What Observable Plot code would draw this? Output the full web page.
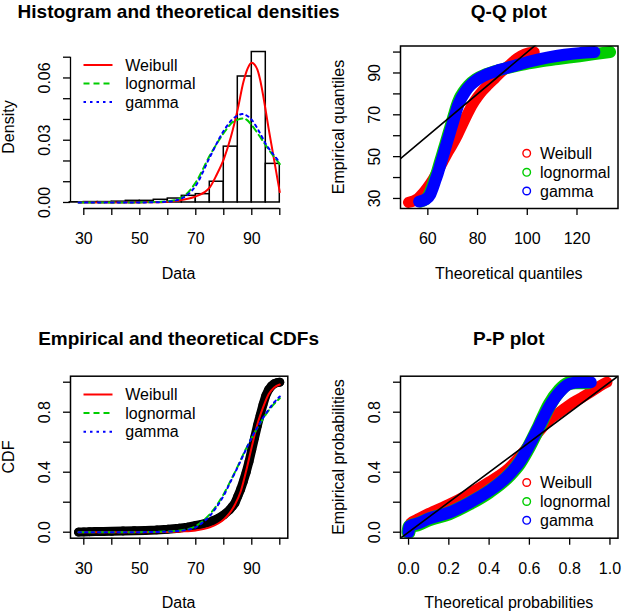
<!DOCTYPE html>
<html>
<head>
<meta charset="utf-8">
<script src="https://cdn.jsdelivr.net/npm/d3@7"></script>
<script src="https://cdn.jsdelivr.net/npm/@observablehq/plot@0.6"></script>
<style>
html,body{margin:0;padding:0;background:#fff;}
#root{position:relative;width:623px;height:614px;overflow:hidden;font-family:"Liberation Sans",Arial,Helvetica,sans-serif;color:#000;}
</style>
</head>
<body>
<div id="root"></div>
<script>
// ---------------- data ----------------
const fitNames = ["Weibull", "lognormal", "gamma"];
const fitColors = ["#ff0000", "#00cd00", "#0000ff"];

// Histogram (density scale)
const histBreaks = [25, 30, 35, 40, 45, 50, 55, 60, 65, 70, 75, 80, 85, 90, 95, 100];
const histDensity = [0.0001, 0.0002, 0.0002, 0.0004, 0.0008, 0.0008, 0.0013, 0.0019, 0.0032, 0.0040, 0.0100, 0.0269, 0.0607, 0.0725, 0.0186];

// Theoretical densities
const densWeibullX = [28.1, 40, 50, 55, 60, 65, 70, 75, 77.5, 80, 82.5, 85, 87, 88.5, 90, 91, 92, 93, 94, 95, 96, 97, 98, 99, 100];
const densWeibullY = [0, 0, 0.00005, 0.0001, 0.0004, 0.0012, 0.0029, 0.0073, 0.0135, 0.0209, 0.0314, 0.0451, 0.0580, 0.0645, 0.0673, 0.0664, 0.0640, 0.0590, 0.0520, 0.0440, 0.0357, 0.0280, 0.0203, 0.0126, 0.0050];
const densLnormX = [28.1, 40, 50, 55, 60, 65, 70, 75, 80, 83, 85, 86, 87, 88, 90, 92.5, 95, 97.5, 100];
const densLnormY = [0, 0, 0.00005, 0.0002, 0.0006, 0.0024, 0.0097, 0.0226, 0.0335, 0.0385, 0.0399, 0.0404, 0.0405, 0.0400, 0.0372, 0.0325, 0.0275, 0.0228, 0.0185];
const densGammaX = [28.1, 40, 50, 55, 60, 65, 70, 75, 80, 83, 85, 86.5, 88, 90, 92.5, 95, 97.5, 100];
const densGammaY = [0, 0, 0.00003, 0.0001, 0.0004, 0.0020, 0.0081, 0.0218, 0.0346, 0.0400, 0.0419, 0.0426, 0.0420, 0.0398, 0.0345, 0.0282, 0.0235, 0.0193];

// Empirical CDF
const ecdfX = [28.1, 30, 32, 34, 37, 40, 44, 48, 52, 56, 60, 64, 67, 70, 72, 74, 76, 78, 80, 82, 83, 84, 85, 86, 87, 88, 89, 90, 91, 92, 93, 94, 95, 96, 97, 98, 99, 100];
const ecdfY = [0.001, 0.002, 0.003, 0.004, 0.005, 0.006, 0.008, 0.010, 0.012, 0.015, 0.020, 0.027, 0.034, 0.045, 0.052, 0.062, 0.075, 0.092, 0.115, 0.148, 0.170, 0.195, 0.240, 0.285, 0.340, 0.400, 0.470, 0.550, 0.630, 0.710, 0.780, 0.850, 0.910, 0.950, 0.975, 0.990, 0.997, 1.000];

// Theoretical CDFs
const cdfWeibullX = [28.1, 50, 60, 65, 70, 75, 78, 80, 82, 84, 86, 88, 90, 92, 94, 96, 98, 100];
const cdfWeibullY = [0, 0.0003, 0.002, 0.005, 0.012, 0.032, 0.058, 0.085, 0.125, 0.185, 0.270, 0.410, 0.570, 0.720, 0.830, 0.920, 0.965, 0.985];
const cdfLnormX = [28.1, 50, 60, 65, 70, 72.5, 75, 77.5, 80, 82.5, 85, 87.5, 90, 92.5, 95, 97.5, 100];
const cdfLnormY = [0, 0.0005, 0.005, 0.013, 0.040, 0.075, 0.120, 0.180, 0.255, 0.345, 0.440, 0.540, 0.630, 0.710, 0.785, 0.845, 0.893];
const cdfGammaX = [28.1, 50, 60, 65, 70, 72.5, 75, 77.5, 80, 82.5, 85, 87.5, 90, 92.5, 95, 97.5, 100];
const cdfGammaY = [0, 0.0003, 0.004, 0.010, 0.033, 0.066, 0.108, 0.170, 0.245, 0.340, 0.435, 0.535, 0.632, 0.715, 0.790, 0.855, 0.905];

// Q-Q plot (theoretical quantile, empirical quantile)
const qqWeibullX = [52.2, 56, 58, 60, 62, 64, 66, 68, 70, 72, 74, 76, 78, 80, 82, 84, 87, 90, 93, 96, 99, 102.8];
const qqWeibullY = [28.1, 30, 32.5, 35.5, 39, 43, 47.5, 52, 56, 60.5, 65.5, 70.5, 75, 78.5, 81.5, 84, 87.5, 91, 94, 97, 99, 100];
const qqLnormX = [57, 59, 60.5, 61.5, 62.5, 63.5, 64.5, 65.5, 66.5, 67.5, 68.5, 69.5, 70.5, 71.5, 72.8, 74.3, 76.3, 79.3, 83.5, 90, 97, 105, 113, 121, 127, 133.3];
const qqLnormY = [28.5, 29.5, 32, 35, 38.5, 42, 46, 50, 54, 58, 62, 66, 70, 74, 78, 81, 84, 87, 89.5, 91.8, 93.8, 95.5, 96.8, 98, 99, 100];
const qqGammaX = [56.5, 59, 61, 62, 63, 64, 65, 66, 67, 68, 69, 70, 71, 72, 73.5, 75, 77, 80, 84, 89, 95, 101, 108, 115, 121, 127];
const qqGammaY = [28.5, 29.5, 32, 35, 38.5, 42, 46, 50, 54, 58, 62, 66, 70, 74, 78, 81, 84, 87, 89.5, 91.5, 93.5, 95.5, 97.3, 98.7, 99.5, 100];

// P-P plot (theoretical probability, empirical probability)
const ppWeibullX = [0, 0.01, 0.05, 0.1, 0.2, 0.3, 0.4, 0.5, 0.55, 0.6, 0.65, 0.7, 0.75, 0.8, 0.85, 0.9, 0.95, 0.985];
const ppWeibullY = [0.02, 0.06, 0.09, 0.125, 0.185, 0.255, 0.335, 0.43, 0.50, 0.585, 0.675, 0.75, 0.80, 0.85, 0.89, 0.93, 0.975, 1.0];
const ppLnormX = [0, 0.005, 0.05, 0.1, 0.2, 0.3, 0.4, 0.5, 0.55, 0.6, 0.65, 0.7, 0.75, 0.79, 0.83, 0.89];
const ppLnormY = [0.0, 0.035, 0.055, 0.085, 0.125, 0.19, 0.27, 0.38, 0.46, 0.575, 0.71, 0.85, 0.945, 0.99, 1.0, 1.0];
const ppGammaX = [0, 0.005, 0.05, 0.1, 0.2, 0.3, 0.4, 0.5, 0.55, 0.6, 0.65, 0.7, 0.75, 0.8, 0.85, 0.905];
const ppGammaY = [0.0, 0.04, 0.06, 0.09, 0.13, 0.195, 0.275, 0.385, 0.465, 0.58, 0.71, 0.84, 0.935, 0.99, 1.0, 1.0];

// Axes: tick values and tick labels
const dataXTicks = [30, 40, 50, 60, 70, 80, 90, 100];
const dataXLabels = ["30", "", "50", "", "70", "", "90", ""];
const histYTicks = [0, 0.01, 0.02, 0.03, 0.04, 0.05, 0.06, 0.07];
const histYLabels = ["0.00", "", "", "0.03", "", "", "0.06", ""];
const probTicks = [0, 0.2, 0.4, 0.6, 0.8, 1.0];
const probYLabels = ["0.0", "", "0.4", "", "0.8", ""];
const probXLabels = ["0.0", "0.2", "0.4", "0.6", "0.8", "1.0"];
const qqXTicks = [60, 80, 100, 120];
const qqXLabels = ["60", "80", "100", "120"];
const qqYTicks = [30, 40, 50, 60, 70, 80, 90, 100];
const qqYLabels = ["30", "", "50", "", "70", "", "90", ""];

// Scale domains (R's 4% padded ranges)
const dataXDomain = [25.25, 102.86];
const histYDomain = [-0.0029, 0.0754];
const probDomain = [-0.04, 1.04];
const qqXDomain = [49, 136.5];
const qqYDomain = [25.2, 102.9];

// ---------------- helpers ----------------
const FONT = '"Liberation Sans", Arial, Helvetica, sans-serif';
const root = document.getElementById("root");
const pts = (xs, ys) => xs.map((x, i) => ({x, y: ys[i]}));
const dashes = [null, "6,4", "2.5,4"];

function axes(xTicks, xLabels, yTicks, yLabels) {
  const xl = new Map(xTicks.map((t, i) => [t, xLabels[i]]));
  const yl = new Map(yTicks.map((t, i) => [t, yLabels[i]]));
  return [
    Plot.axisX({ticks: xTicks, tickFormat: d => xl.get(d) ?? "", tickSize: 7, tickPadding: 17, fontSize: 16, label: null, strokeWidth: 1.3}),
    Plot.axisY({ticks: yTicks, tickFormat: d => yl.get(d) ?? "", tickSize: 7, tickPadding: 14, tickRotate: -90, fontSize: 16, label: null, strokeWidth: 1.3})
  ];
}

function place(svg, left, top) {
  svg.style.position = "absolute";
  svg.style.left = left + "px";
  svg.style.top = top + "px";
  svg.style.maxWidth = "none";
  root.appendChild(svg);
}

const baseStyle = {fontFamily: FONT, fontSize: "16px", color: "#000", background: "transparent", overflow: "visible"};

// ---------------- panel 1: histogram ----------------
const histTable = histDensity.map((d, i) => ({x1: histBreaks[i], x2: histBreaks[i + 1], d}));
const densSeries = [pts(densWeibullX, densWeibullY), pts(densLnormX, densLnormY), pts(densGammaX, densGammaY)];

const p1 = Plot.plot({
  width: 311, height: 307,
  marginLeft: 70, marginRight: 23.7, marginTop: 45.5, marginBottom: 99,
  x: {domain: dataXDomain},
  y: {domain: histYDomain},
  style: baseStyle,
  marks: [
    Plot.rectY(histTable, {x1: "x1", x2: "x2", y: "d", fill: "white", stroke: "black", strokeWidth: 1.5, inset: 0}),
    ...densSeries.map((s, i) => Plot.line(s, {x: "x", y: "y", stroke: fitColors[i], strokeWidth: 2, strokeDasharray: dashes[i], curve: "monotone-x"})),
    Plot.ruleY([histYDomain[0]], {x1: dataXTicks[0], x2: dataXTicks[dataXTicks.length - 1], strokeWidth: 1.3}),
    Plot.ruleX([dataXDomain[0]], {y1: histYTicks[0], y2: histYTicks[histYTicks.length - 1], strokeWidth: 1.3}),
    ...axes(dataXTicks, dataXLabels, histYTicks, histYLabels)
  ]
});
place(p1, 0, 0);

// ---------------- panel 2: Q-Q ----------------
const qqSeries = [pts(qqWeibullX, qqWeibullY), pts(qqLnormX, qqLnormY), pts(qqGammaX, qqGammaY)];
const qqWidths = [11, 12, 12];
const p2 = Plot.plot({
  width: 312, height: 307,
  marginLeft: 89, marginRight: 5.5, marginTop: 45.5, marginBottom: 99,
  x: {domain: qqXDomain},
  y: {domain: qqYDomain},
  style: baseStyle,
  marks: [
    ...qqSeries.flatMap((s, i) => [
      Plot.line(s, {x: "x", y: "y", stroke: fitColors[i], strokeWidth: qqWidths[i], strokeLinecap: "round", strokeLinejoin: "round", curve: "monotone-x", clip: true}),
      Plot.dot(s, {x: "x", y: "y", r: 3.8, stroke: fitColors[i], strokeWidth: 1.4, fill: "none", clip: true})
    ]),
    Plot.line(qqXDomain, {x: d => d, y: d => d, stroke: "black", strokeWidth: 1.6, clip: true}),
    Plot.frame({stroke: "black", strokeWidth: 1.5}),
    ...axes(qqXTicks, qqXLabels, qqYTicks, qqYLabels)
  ]
});
place(p2, 311, 0);

// ---------------- panel 3: CDFs ----------------
const ecdfPts = pts(ecdfX, ecdfY);
const cdfSeries = [pts(cdfWeibullX, cdfWeibullY), pts(cdfLnormX, cdfLnormY), pts(cdfGammaX, cdfGammaY)];
const p3 = Plot.plot({
  width: 311, height: 307,
  marginLeft: 70, marginRight: 23.7, marginTop: 68.7, marginBottom: 76.3,
  x: {domain: dataXDomain},
  y: {domain: probDomain},
  style: baseStyle,
  marks: [
    Plot.line(ecdfPts, {x: "x", y: "y", stroke: "black", strokeWidth: 9, strokeLinecap: "round", strokeLinejoin: "round", clip: true}),
    Plot.dot(ecdfPts, {x: "x", y: "y", r: 4.4, fill: "black", clip: true}),
    ...cdfSeries.map((s, i) => Plot.line(s, {x: "x", y: "y", stroke: fitColors[i], strokeWidth: 2, strokeDasharray: dashes[i], curve: "monotone-x", clip: true})),
    Plot.frame({stroke: "black", strokeWidth: 1.5}),
    ...axes(dataXTicks, dataXLabels, probTicks, probYLabels)
  ]
});
place(p3, 0, 307);

// ---------------- panel 4: P-P ----------------
const ppSeries = [pts(ppWeibullX, ppWeibullY), pts(ppLnormX, ppLnormY), pts(ppGammaX, ppGammaY)];
const ppWidths = [11, 14, 12];
const p4 = Plot.plot({
  width: 312, height: 307,
  marginLeft: 89, marginRight: 5.5, marginTop: 68.7, marginBottom: 76.3,
  x: {domain: probDomain},
  y: {domain: probDomain},
  style: baseStyle,
  marks: [
    ...ppSeries.flatMap((s, i) => [
      Plot.line(s, {x: "x", y: "y", stroke: fitColors[i], strokeWidth: ppWidths[i], strokeLinecap: "round", strokeLinejoin: "round", curve: "monotone-x", clip: true}),
      Plot.dot(s, {x: "x", y: "y", r: 3.8, stroke: fitColors[i], strokeWidth: 1.4, fill: "none", clip: true})
    ]),
    Plot.line(probDomain, {x: d => d, y: d => d, stroke: "black", strokeWidth: 1.6, clip: true}),
    Plot.frame({stroke: "black", strokeWidth: 1.5}),
    ...axes(probTicks, probXLabels, probTicks, probYLabels)
  ]
});
place(p4, 311, 307);

// ---------------- text: titles and axis labels ----------------
function addText(txt, cx, cy, size, bold, rotate) {
  const d = document.createElement("div");
  d.textContent = txt;
  d.style.cssText = `position:absolute;left:${cx}px;top:${cy}px;font-size:${size}px;font-weight:${bold ? "bold" : "normal"};line-height:1;white-space:nowrap;transform:translate(-50%,-50%)${rotate ? " rotate(-90deg)" : ""};`;
  root.appendChild(d);
}
addText("Histogram and theoretical densities", 178.6, 10.8, 19, true);
addText("Q-Q plot", 508.8, 10.8, 19, true);
addText("Empirical and theoretical CDFs", 178.6, 338.3, 19, true);
addText("P-P plot", 508.8, 338.3, 19, true);
addText("Data", 178.6, 274.2, 16);
addText("Theoretical quantiles", 508.8, 274.2, 16);
addText("Data", 178.6, 602.5, 16);
addText("Theoretical probabilities", 508.8, 602.5, 16);
addText("Density", 9.3, 126.7, 16, false, true);
addText("Empirical quantiles", 338.8, 126.7, 16, false, true);
addText("CDF", 9.3, 456.7, 16, false, true);
addText("Empirical probabilities", 338.8, 456.7, 16, false, true);

// ---------------- legends (inside the plots, no box) ----------------
const ov = d3.create("svg").attr("width", 623).attr("height", 614)
  .style("position", "absolute").style("left", "0px").style("top", "0px")
  .style("pointer-events", "none").style("font-family", FONT);
function lineLegend(x0, x1, tx, rows) {
  fitNames.forEach((name, i) => {
    ov.append("line").attr("x1", x0).attr("x2", x1).attr("y1", rows[i]).attr("y2", rows[i])
      .attr("stroke", fitColors[i]).attr("stroke-width", 2).attr("stroke-dasharray", dashes[i]);
    ov.append("text").attr("x", tx).attr("y", rows[i] + 5.7).attr("font-size", 16).attr("fill", "#000").text(name);
  });
}
function pointLegend(cx, tx, rows) {
  fitNames.forEach((name, i) => {
    ov.append("circle").attr("cx", cx).attr("cy", rows[i]).attr("r", 3.8)
      .attr("fill", "none").attr("stroke", fitColors[i]).attr("stroke-width", 1.4);
    ov.append("text").attr("x", tx).attr("y", rows[i] + 5.7).attr("font-size", 16).attr("fill", "#000").text(name);
  });
}
lineLegend(83.5, 112.5, 125.3, [65, 83.5, 102]);
lineLegend(83.5, 112.5, 125.3, [394.5, 413, 431.7]);
pointLegend(526.7, 540, [153.3, 172.3, 191]);
pointLegend(526.7, 540, [482.5, 501.5, 520.3]);
root.appendChild(ov.node());
</script>
</body>
</html>
